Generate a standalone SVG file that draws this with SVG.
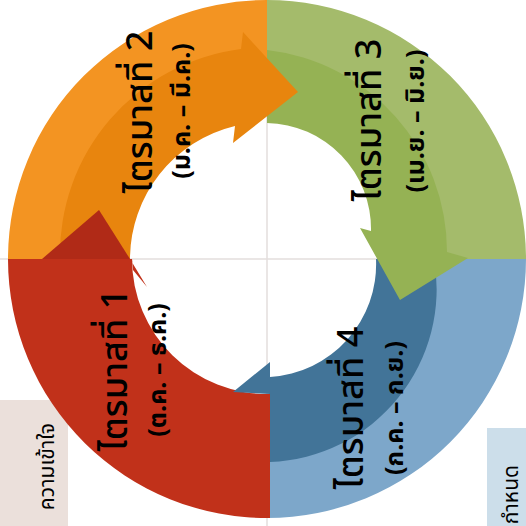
<svg xmlns="http://www.w3.org/2000/svg" width="526" height="526" viewBox="0 0 526 526">
<style>
.lbl{font-family:'Noto Sans Thai','Noto Sans','DejaVu Sans',sans-serif;fill:#000;text-anchor:middle}
.main{font-size:36px;font-weight:500}
.sub{font-size:25px;font-weight:bold}
.box{font-family:'Noto Sans Thai','Noto Sans','DejaVu Sans',sans-serif;fill:#000;font-size:21px;text-anchor:end}
</style>
<rect width="526" height="526" fill="#fff"/>
<g id="axes" stroke="#e3dedd" stroke-width="1.5">
<line x1="0" y1="259" x2="526" y2="259"/>
<line x1="267" y1="0" x2="267" y2="526"/>
</g>
<g id="box-left"><rect x="-2" y="400" width="70" height="130" fill="#ebe0db"/>
<text class="box" transform="translate(54,423) rotate(-90)">ความเข้าใจ</text></g>
<g id="box-right"><rect x="487" y="428" width="45" height="100" fill="#ccdeea"/>
<text class="box" transform="translate(518,465) rotate(-90)">กำหนด</text></g>
<g id="ring">
<path d="M8,259 A259,259 0 0 1 267,0 L267,109 A150,150 0 0 0 117,259 Z" fill="#f39422"/>
<path d="M267,0 A259,259 0 0 1 526,259 L417,259 A150,150 0 0 0 267,109 Z" fill="#a4bb6b"/>
<path d="M526,259 A259,259 0 0 1 267,518 L267,409 A150,150 0 0 0 417,259 Z" fill="#7da7ca"/>
<path d="M270,518 A259,259 0 0 1 8,259 L132,259 A135,135 0 0 0 270,394 Z" fill="#c1311a"/>
</g>
<g id="connectors">
<path id="arrow-q4" d="M434,259 A173,173 0 0 1 270,462 L270,394 L233,392 L270,362 L270,377 A113,113 0 0 0 376,259 Z" fill="#427498"/>
<path id="arrow-q3" d="M267,50 A203,203 0 0 1 447,252 L468,258 L400,300 L360,228 L371,231 A106,106 0 0 0 267,123 Z" fill="#95b254"/>
<path id="arrow-q2" d="M60,259 A207,207 0 0 1 241,49 L243,32 L298,92 L233,143 L235,126 A137,137 0 0 0 130,259 Z" fill="#e8850e"/>
<path id="arrow-q1" d="M42,259 L99,210 L130,259 Z" fill="#b02a17"/>
<path d="M130,259 L147,287 L133,270 L132,259 Z" fill="#c1311a"/>
</g>
<g id="node-q1">
<text class="lbl main" transform="translate(127,370) rotate(-90)">ไตรมาสที่ 1</text>
<text class="lbl sub" transform="translate(166,370) rotate(-90)">(ต.ค. – ธ.ค.)</text>
</g>
<g id="node-q2">
<text class="lbl main" transform="translate(152,112) rotate(-90)">ไตรมาสที่ 2</text>
<text class="lbl sub" transform="translate(190,111) rotate(-90)">(ม.ค. – มี.ค.)</text>
</g>
<g id="node-q3">
<text class="lbl main" transform="translate(381,120) rotate(-90)">ไตรมาสที่ 3</text>
<text class="lbl sub" transform="translate(424,121) rotate(-90)">(เม.ย. – มิ.ย.)</text>
</g>
<g id="node-q4">
<text class="lbl main" transform="translate(363,408) rotate(-90)">ไตรมาสที่ 4</text>
<text class="lbl sub" transform="translate(403,408) rotate(-90)">(ก.ค. – ก.ย.)</text>
</g>
</svg>
